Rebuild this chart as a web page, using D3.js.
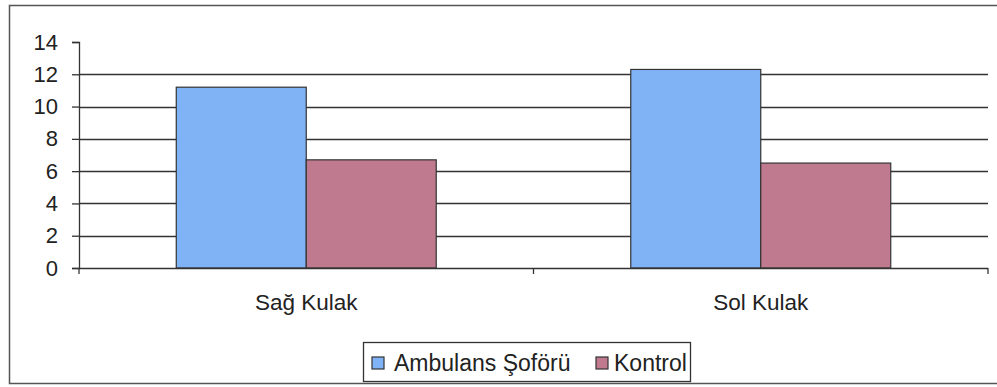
<!DOCTYPE html>
<html>
<head>
<meta charset="utf-8">
<script src="https://cdn.jsdelivr.net/npm/d3@7"></script>
<style>
  html, body { margin: 0; padding: 0; background: #fff; }
  svg { display: block; font-family: Arial, "Liberation Sans", sans-serif; }
</style>
</head>
<body>
<svg id="chart" width="997" height="387"></svg>
<script>
// Hearing threshold comparison: ambulance drivers vs. control group
const categories = ["Sağ Kulak", "Sol Kulak"];
const seriesNames = ["Ambulans Şoförü", "Kontrol"];
const ambulansValues = [11.2, 12.3];
const kontrolValues = [6.7, 6.5];
const yTicks = [0, 2, 4, 6, 8, 10, 12, 14];
const colors = ["#80b3f6", "#c07a90"];

const svg = d3.select("#chart");
const plot = { left: 79, right: 988, top: 42, bottom: 268 };
const ink = "#222";
const fontStack = "Arial, 'Liberation Sans', sans-serif";

// Outer frame (right edge runs off the page)
svg.append("rect")
  .attr("x", 9.5).attr("y", 5.5)
  .attr("width", 1000).attr("height", 378)
  .attr("fill", "#fff").attr("stroke", "#555").attr("stroke-width", 1.5);

const y = d3.scaleLinear().domain([0, 14]).range([plot.bottom, plot.top]);
const x0 = d3.scaleBand().domain(categories)
  .range([plot.left, plot.right]).paddingInner(0.428).paddingOuter(0.214);
const x1 = d3.scaleBand().domain(seriesNames).range([0, x0.bandwidth()]);

// Horizontal gridlines
svg.append("g").selectAll("line")
  .data(yTicks.filter(t => t > 0 && t < 14))
  .join("line")
  .attr("x1", plot.left).attr("x2", plot.right)
  .attr("y1", d => Math.round(y(d)) + 0.5).attr("y2", d => Math.round(y(d)) + 0.5)
  .attr("stroke", "#333").attr("stroke-width", 1.3);

// Bars
const rows = categories.map((c, i) => ({
  category: c,
  values: [ambulansValues[i], kontrolValues[i]]
}));
svg.append("g").selectAll("g")
  .data(rows)
  .join("g")
  .attr("transform", d => `translate(${x0(d.category)},0)`)
  .selectAll("rect")
  .data(d => d.values.map((v, j) => ({ name: seriesNames[j], value: v, color: colors[j] })))
  .join("rect")
  .attr("x", d => x1(d.name))
  .attr("y", d => y(d.value))
  .attr("width", x1.bandwidth())
  .attr("height", d => y(0) - y(d.value))
  .attr("fill", d => d.color)
  .attr("stroke", "#333").attr("stroke-width", 1.2);

// Y axis
const yAxis = d3.axisLeft(y).tickValues(yTicks).tickSize(7).tickPadding(14);
const gy = svg.append("g").attr("transform", `translate(${plot.left},0)`).call(yAxis);
gy.attr("font-size", null).attr("font-family", null);
gy.select(".domain").attr("stroke", "#333").attr("stroke-width", 1.3);
gy.selectAll(".tick line").attr("stroke", "#333").attr("stroke-width", 1.3);
gy.selectAll(".tick text")
  .attr("fill", ink).style("font-size", "22px").style("font-family", fontStack);

// X axis with category-boundary ticks
const gx = svg.append("g").attr("transform", `translate(0,${plot.bottom})`);
gx.append("line")
  .attr("x1", plot.left).attr("x2", plot.right)
  .attr("y1", 0.5).attr("y2", 0.5)
  .attr("stroke", "#333").attr("stroke-width", 1.3);
const boundaries = [plot.left, (plot.left + plot.right) / 2, plot.right];
gx.selectAll("line.b").data(boundaries).join("line").attr("class", "b")
  .attr("x1", d => d).attr("x2", d => d).attr("y1", 0).attr("y2", 6)
  .attr("stroke", "#333").attr("stroke-width", 1.3);
gx.selectAll("text").data(categories).join("text")
  .attr("x", d => x0(d) + x0.bandwidth() / 2)
  .attr("y", 42)
  .attr("text-anchor", "middle")
  .attr("fill", ink).style("font-size", "22.5px").style("font-family", fontStack)
  .text(d => d);

// Legend
const legend = svg.append("g");
legend.append("rect")
  .attr("x", 363.5).attr("y", 342.5).attr("width", 327).attr("height", 39)
  .attr("fill", "#fff").attr("stroke", "#333").attr("stroke-width", 1.3);
const legendItems = [
  { name: seriesNames[0], color: colors[0], x: 372, tx: 394 },
  { name: seriesNames[1], color: colors[1], x: 596, tx: 614 }
];
const li = legend.selectAll("g.item").data(legendItems).join("g").attr("class", "item");
li.append("rect")
  .attr("x", d => d.x).attr("y", 357).attr("width", 12).attr("height", 12)
  .attr("fill", d => d.color).attr("stroke", "#333").attr("stroke-width", 1.2);
li.append("text")
  .attr("x", d => d.tx).attr("y", 371)
  .attr("fill", ink).style("font-size", "23px").style("font-family", fontStack)
  .text(d => d.name);
</script>
</body>
</html>
